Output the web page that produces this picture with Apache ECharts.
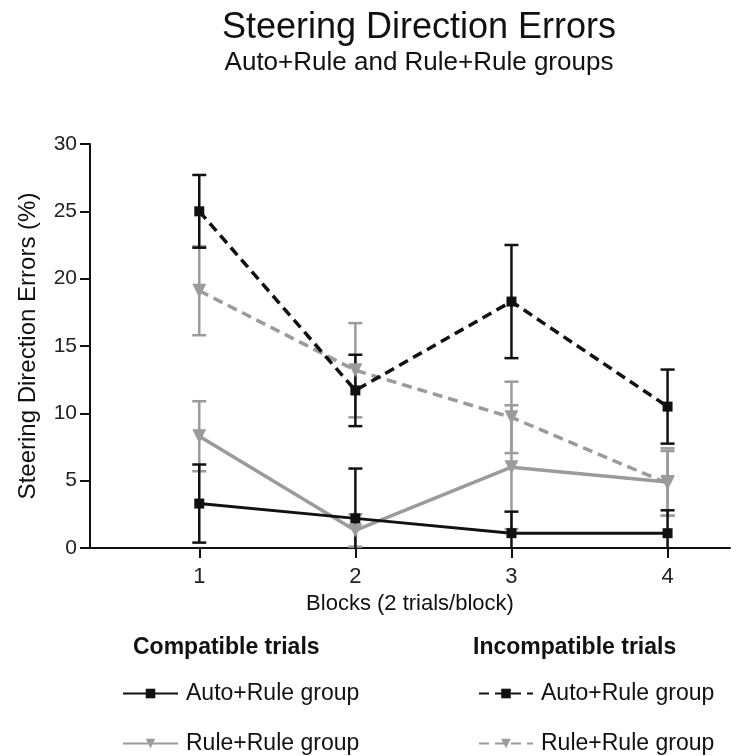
<!DOCTYPE html>
<html>
<head>
<meta charset="utf-8">
<script src="https://cdn.jsdelivr.net/npm/echarts@6/dist/echarts.min.js"></script>
<style>
  html, body { margin: 0; padding: 0; background: #fff; }
  #main { width: 739px; height: 756px; }
</style>
</head>
<body>
<div id="main"></div>
<script>
// blocks on the x axis
var blocks = [1, 2, 3, 4];
var yTicks = [0, 5, 10, 15, 20, 25, 30];

// compatible trials
var compAuto = [3.3, 2.2, 1.1, 1.1];
var compAutoErr = [2.9, 3.7, 1.6, 1.7];
var compRule = [8.3, 1.3, 6.0, 4.9];
var compRuleErr = [2.6, 1.2, 4.6, 2.5];

// incompatible trials
var incAuto = [25.0, 11.7, 18.3, 10.5];
var incAutoErr = [2.7, 2.65, 4.2, 2.75];
var incRule = [19.1, 13.2, 9.7, 4.8];
var incRuleErr = [3.3, 3.5, 2.65, 2.4];

var BLACK = '#111111';
var GREY = '#9b9b9b';

function pairs(vals) {
    var out = [];
    for (var i = 0; i < blocks.length; i++) {
        out.push([blocks[i], vals[i]]);
    }
    return out;
}

function errData(vals, errs) {
    var out = [];
    for (var i = 0; i < blocks.length; i++) {
        out.push([blocks[i], vals[i] - errs[i], vals[i] + errs[i]]);
    }
    return out;
}

function errorBars(data, color, width) {
    return {
        type: 'custom',
        data: data,
        z: 1,
        silent: true,
        renderItem: function (params, api) {
            var x = api.value(0);
            var low = api.value(1);
            var high = api.value(2);
            var lowCapped = low < 0;
            var p0 = api.coord([x, lowCapped ? 0 : low]);
            var p1 = api.coord([x, high]);
            var hw = 7;
            var style = { stroke: color, lineWidth: width };
            var kids = [
                { type: 'line', shape: { x1: p0[0], y1: p0[1], x2: p1[0], y2: p1[1] }, style: style },
                { type: 'line', shape: { x1: p1[0] - hw, y1: p1[1], x2: p1[0] + hw, y2: p1[1] }, style: style }
            ];
            if (!lowCapped) {
                kids.push({ type: 'line', shape: { x1: p0[0] - hw, y1: p0[1], x2: p0[0] + hw, y2: p0[1] }, style: style });
            }
            return { type: 'group', children: kids };
        }
    };
}

// one legend box per entry so they sit in two columns
function legendItem(name, left, top, width, label) {
    return {
        data: [name],
        left: left,
        top: top,
        padding: 0,
        itemWidth: width,
        itemHeight: 12,
        textStyle: { fontFamily: font, fontSize: 23, color: BLACK, padding: [0, 0, 0, 3] },
        formatter: function () { return label; }
    };
}

var myChart = echarts.init(document.getElementById('main'));

var font = 'Liberation Sans, Arial, sans-serif';

var option = {
    backgroundColor: '#fff',
    animation: false,
    textStyle: { fontFamily: font },
    title: [
        {
            text: 'Steering Direction Errors',
            left: 419,
            textAlign: 'center',
            top: 10,
            padding: 0,
            textStyle: { fontFamily: font, fontSize: 36, fontWeight: 'normal', color: BLACK }
        },
        {
            text: 'Auto+Rule and Rule+Rule groups',
            left: 419,
            textAlign: 'center',
            top: 50,
            padding: 0,
            textStyle: { fontFamily: font, fontSize: 26, fontWeight: 'normal', color: BLACK }
        },
        {
            text: 'Compatible trials',
            left: 133,
            top: 636,
            padding: 0,
            textStyle: { fontFamily: font, fontSize: 23, fontWeight: 'bold', color: BLACK }
        },
        {
            text: 'Incompatible trials',
            left: 473,
            top: 636,
            padding: 0,
            textStyle: { fontFamily: font, fontSize: 23, fontWeight: 'bold', color: BLACK }
        }
    ],
    legend: [
        legendItem('Compatible Auto+Rule', 122, 682, 55, 'Auto+Rule group'),
        legendItem('Compatible Rule+Rule', 122, 732, 55, 'Rule+Rule group'),
        legendItem('Incompatible Auto+Rule', 478, 682, 54, 'Auto+Rule group'),
        legendItem('Incompatible Rule+Rule', 478, 732, 54, 'Rule+Rule group')
    ],
    grid: {
        left: 90,
        right: 9,
        top: 144,
        bottom: 208,
        containLabel: false
    },
    xAxis: {
        type: 'value',
        min: 0.3,
        max: 4.4,
        name: 'Blocks (2 trials/block)',
        nameLocation: 'middle',
        nameGap: 37,
        nameTextStyle: { fontFamily: font, fontSize: 22, color: BLACK },
        splitLine: { show: false },
        axisLine: { lineStyle: { color: BLACK, width: 2 } },
        axisTick: { show: true, length: 10, customValues: blocks, lineStyle: { color: BLACK, width: 2 } },
        axisLabel: { customValues: blocks, fontSize: 22, color: '#222', margin: 18, fontFamily: font }
    },
    yAxis: {
        type: 'value',
        min: 0,
        max: 30,
        interval: 5,
        name: 'Steering Direction Errors (%)',
        nameLocation: 'middle',
        nameGap: 50,
        nameTextStyle: { fontFamily: font, fontSize: 24, color: BLACK },
        splitLine: { show: false },
        axisLine: { show: true, lineStyle: { color: BLACK, width: 2 } },
        axisTick: { show: true, length: 10, lineStyle: { color: BLACK, width: 2 } },
        axisLabel: {
            fontSize: 21, color: '#222', margin: 13, fontFamily: font,
            customValues: yTicks
        }
    },
    series: [
        errorBars(errData(compRule, compRuleErr), GREY, 2.5),
        errorBars(errData(incRule, incRuleErr), GREY, 2.5),
        errorBars(errData(compAuto, compAutoErr), BLACK, 2.5),
        errorBars(errData(incAuto, incAutoErr), BLACK, 2.5),
        {
            name: 'Compatible Rule+Rule',
            type: 'line',
            data: pairs(compRule),
            symbol: 'triangle',
            symbolRotate: 180,
            symbolSize: 14,
            z: 3,
            itemStyle: { color: GREY },
            lineStyle: { color: GREY, width: 3.5, type: 'solid' }
        },
        {
            name: 'Incompatible Rule+Rule',
            type: 'line',
            data: pairs(incRule),
            symbol: 'triangle',
            symbolRotate: 180,
            symbolSize: 14,
            z: 3,
            itemStyle: { color: GREY },
            lineStyle: { color: GREY, width: 3.5, type: [10, 6] }
        },
        {
            name: 'Compatible Auto+Rule',
            type: 'line',
            data: pairs(compAuto),
            symbol: 'rect',
            symbolSize: 10,
            z: 4,
            itemStyle: { color: BLACK },
            lineStyle: { color: BLACK, width: 3, type: 'solid' }
        },
        {
            name: 'Incompatible Auto+Rule',
            type: 'line',
            data: pairs(incAuto),
            symbol: 'rect',
            symbolSize: 10,
            z: 4,
            itemStyle: { color: BLACK },
            lineStyle: { color: BLACK, width: 3.5, type: [10, 6] }
        }
    ]
};

myChart.setOption(option);
</script>
</body>
</html>
